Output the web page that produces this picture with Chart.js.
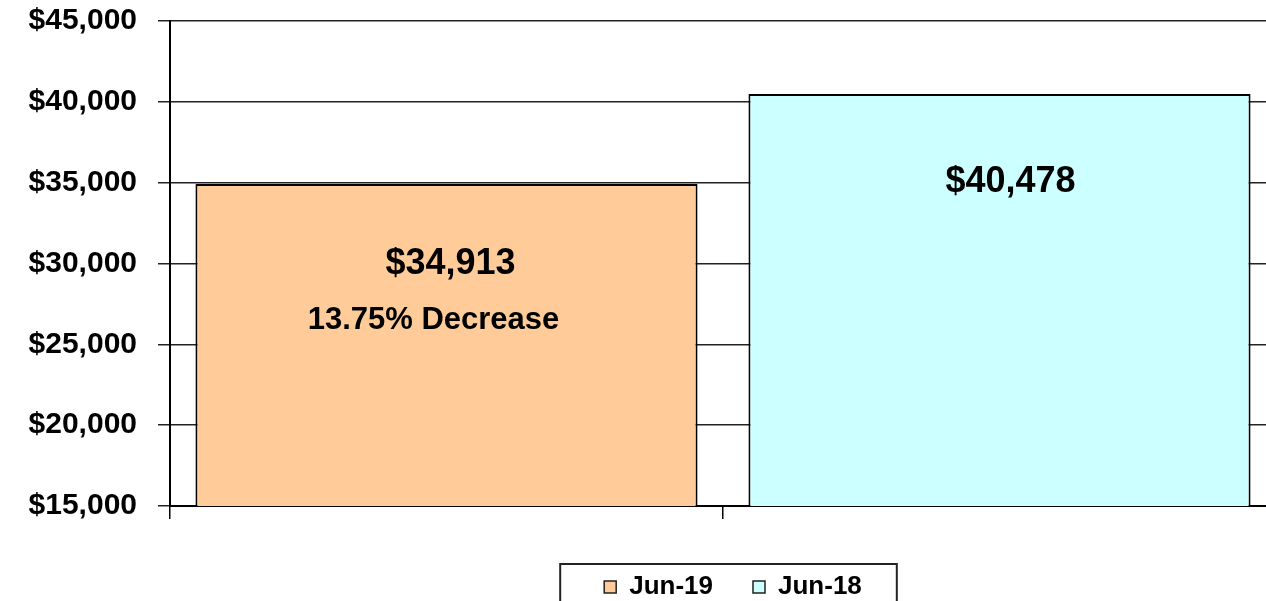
<!DOCTYPE html>
<html>
<head>
<meta charset="utf-8">
<script src="https://cdn.jsdelivr.net/npm/chart.js@4.4.1/dist/chart.umd.min.js"></script>
<style>
  html, body { margin: 0; padding: 0; background: #fff; overflow: hidden; }
  #wrap { width: 1276px; height: 618px; }
</style>
</head>
<body>
<div id="wrap"><canvas id="salesChart" width="1276" height="618"></canvas></div>
<script>
// ============================
// DATA
// ============================
const categories = ["Jun-19", "Jun-18"];
const salesValues = [34913, 40478];
const barColors = ["#FFCC99", "#CCFFFF"];
const yTicks = [15000, 20000, 25000, 30000, 35000, 40000, 45000];

const FONT = "'Liberation Sans', Arial, Helvetica, sans-serif";
const money = v => "$" + Math.round(v).toLocaleString("en-US");

// percentage change of this year against last year
const pctChange = (salesValues[1] - salesValues[0]) / salesValues[1] * 100;
const changeText = pctChange.toFixed(2) + "% " + (pctChange >= 0 ? "Decrease" : "Increase");

// ============================
// LABELS INSIDE THE BARS + LEGEND FRAME
// ============================
const barLabels = {
  id: "barLabels",
  afterLayout(chart) {
    // legend sits a little right of the plot centre
    chart.legend.left += 10;
    chart.legend.right += 10;
  },
  afterDatasetsDraw(chart) {
    const { ctx } = chart;
    const bars = chart.getDatasetMeta(0).data;
    ctx.save();
    ctx.fillStyle = "#000";
    ctx.textAlign = "center";
    ctx.textBaseline = "middle";

    ctx.font = "bold 36px " + FONT;
    ctx.fillText(money(salesValues[0]), bars[0].x + 4, bars[0].y + 80);
    ctx.fillText(money(salesValues[1]), bars[1].x + 11, bars[1].y + 88);

    ctx.font = "bold 31px " + FONT;
    ctx.fillText(changeText, bars[0].x - 13, bars[0].y + 136);
    ctx.restore();
  },
  afterDraw(chart) {
    const hb = chart.legend.legendHitBoxes;
    if (!hb || !hb.length) return;
    const { ctx } = chart;
    const last = hb[hb.length - 1];
    const left = hb[0].left - 44;
    const right = last.left + last.width + 35;
    const top = hb[0].top + hb[0].height / 2 - 23;
    ctx.save();
    ctx.strokeStyle = "#222";
    ctx.lineWidth = 2;
    ctx.strokeRect(left, top, right - left, 80);
    ctx.restore();
  }
};

// ============================
// CHART
// ============================
const ctx = document.getElementById("salesChart").getContext("2d");

new Chart(ctx, {
  type: "bar",
  data: {
    labels: categories,
    datasets: [{
      data: salesValues,
      backgroundColor: barColors,
      borderColor: "#000",
      borderWidth: 2,
      borderSkipped: "bottom",
      categoryPercentage: 1,
      barPercentage: 0.908
    }]
  },
  options: {
    responsive: false,
    animation: false,
    layout: { padding: { top: 21, right: 0, bottom: 8, left: 0 } },
    plugins: {
      tooltip: { enabled: false },
      legend: {
        position: "bottom",
        fullSize: false,
        labels: {
          boxWidth: 12,
          boxHeight: 12,
          padding: 40,
          color: "#000",
          font: { family: FONT, size: 26, weight: "bold" },
          generateLabels: () => categories.map((c, i) => ({
            text: c,
            fillStyle: barColors[i],
            strokeStyle: "#222",
            lineWidth: 1.5,
            index: i
          }))
        }
      }
    },
    scales: {
      x: {
        offset: true,
        grid: {
          display: true,
          offset: true,
          drawOnChartArea: false,
          tickLength: 13,
          color: "#000",
          lineWidth: 1.5
        },
        border: { color: "#000", width: 2 },
        ticks: { display: false },
        afterFit: s => { s.height = 28; }
      },
      y: {
        min: 15000,
        max: 45000,
        afterBuildTicks: s => { s.ticks = yTicks.map(v => ({ value: v })); },
        grid: { color: "#222", lineWidth: 1.5, tickLength: 12 },
        border: { color: "#000", width: 2 },
        ticks: {
          color: "#000",
          padding: 21,
          font: { family: FONT, size: 30, weight: "bold" },
          callback: v => money(v)
        },
        afterFit: s => {
          s.width = 170;
          s.paddingTop = 0;
          s.paddingBottom = 0;
        }
      }
    }
  },
  plugins: [barLabels]
});
</script>
</body>
</html>
